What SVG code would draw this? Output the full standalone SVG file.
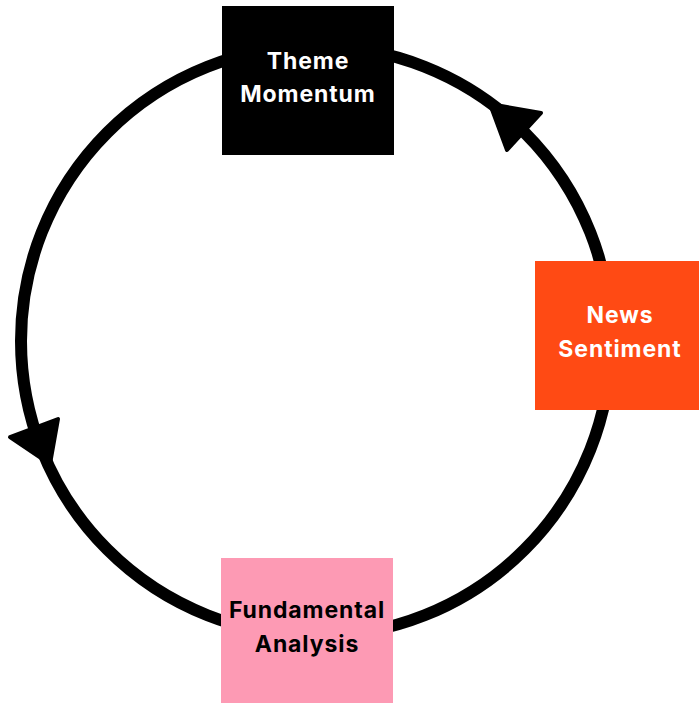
<svg xmlns="http://www.w3.org/2000/svg" width="699" height="703" viewBox="0 0 699 703">
  <style>
    .lbl { font-family: Inter, "Noto Sans", "Liberation Sans", sans-serif; font-weight: 700; font-size: 23px; text-anchor: middle; letter-spacing: 0.9px; }
    .light { fill: #ffffff; }
    .dark { fill: #000000; }
    .head { fill: #000000; stroke: #000000; stroke-width: 4; stroke-linejoin: round; }
  </style>
  <rect width="699" height="703" fill="#ffffff"/>
  <g id="connectors">
    <circle cx="316" cy="341" r="295" fill="none" stroke="#000000" stroke-width="12"/>
    <polygon class="head" points="490,104 541,113 507,150"/>
    <polygon class="head" points="10,437 58,419 50,464"/>
  </g>
  <g id="theme-momentum">
    <rect x="222" y="6" width="172" height="149" fill="#000000"/>
    <text class="lbl light" x="308" y="69">Theme</text>
    <text class="lbl light" x="308" y="102">Momentum</text>
  </g>
  <g id="news-sentiment">
    <rect x="535" y="261" width="164" height="149" fill="#FF4A14"/>
    <text class="lbl light" x="620" y="323">News</text>
    <text class="lbl light" x="620" y="357">Sentiment</text>
  </g>
  <g id="fundamental-analysis">
    <rect x="221" y="558" width="172" height="149" fill="#FD9AB4"/>
    <text class="lbl dark" x="307" y="618">Fundamental</text>
    <text class="lbl dark" x="307" y="652">Analysis</text>
  </g>
</svg>
